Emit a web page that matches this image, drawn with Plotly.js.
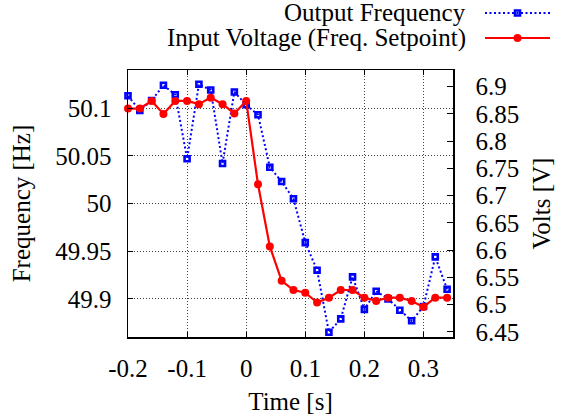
<!DOCTYPE html>
<html>
<head>
<meta charset="utf-8">
<script src="https://cdn.plot.ly/plotly-3.0.1.min.js"></script>
<style>html,body{margin:0;padding:0;background:#fff;}#chart{width:566px;height:419px;}</style>
</head>
<body>
<div id="chart"></div>
<script>
// time samples [s]
var time = [-0.20,-0.18,-0.16,-0.14,-0.12,-0.10,-0.08,-0.06,-0.04,-0.02,
             0.00, 0.02, 0.04, 0.06, 0.08, 0.10, 0.12, 0.14, 0.16, 0.18,
             0.20, 0.22, 0.24, 0.26, 0.28, 0.30, 0.32, 0.34];
// Output frequency [Hz] (left axis)
var outputFrequency = [50.113,50.0975,50.108,50.124,50.114,50.047,50.125,50.119,50.042,50.117,
                       50.1035,50.093,50.038,50.023,50.005,49.959,49.930,49.865,49.879,49.923,
                       49.889,49.908,49.900,49.888,49.877,49.892,49.944,49.910];
// Input voltage (frequency setpoint) [V] (right axis)
var inputVoltage = [6.860,6.860,6.874,6.850,6.874,6.874,6.868,6.880,6.868,6.851,
                    6.874,6.721,6.607,6.544,6.527,6.522,6.504,6.513,6.527,6.527,
                    6.513,6.507,6.513,6.513,6.507,6.496,6.513,6.513];
var xTickVals = [-0.2,-0.1,0,0.1,0.2,0.3];
var xTickText = ['-0.2','-0.1','0','0.1','0.2','0.3'];
var legendLabels = ['Output Frequency','Input Voltage (Freq. Setpoint)'];

var FONT = '"Liberation Serif", "Times New Roman", Tinos, serif';
var BLUE = '#0000ff', RED = '#ff0000';
var W = 566, H = 419;
var L = 128, R = 453, T = 70, B = 337;

var blueLine = {color: BLUE, width: 2, dash: '2px,2.5px'};
var blueMarker = {symbol: 'square-open', size: 5, color: BLUE, line: {color: BLUE, width: 2.6}};
var redLine = {color: RED, width: 2.2};
var redMarker = {symbol: 'circle', size: 8, color: RED};

var traces = [
  {x: time, y: outputFrequency, xaxis: 'x', yaxis: 'y', mode: 'lines+markers',
   line: blueLine, marker: blueMarker, name: legendLabels[0], showlegend: false, cliponaxis: false},
  {x: time, y: inputVoltage, xaxis: 'x', yaxis: 'y2', mode: 'lines+markers',
   line: redLine, marker: redMarker, name: legendLabels[1], showlegend: false, cliponaxis: false},
  // legend samples
  {x: [0, 0.5, 1], y: [13, 13, 13], xaxis: 'x3', yaxis: 'y3', mode: 'lines', line: blueLine,
   showlegend: false, hoverinfo: 'skip', cliponaxis: false},
  {x: [0.5], y: [13], xaxis: 'x3', yaxis: 'y3', mode: 'markers', marker: blueMarker,
   showlegend: false, hoverinfo: 'skip', cliponaxis: false},
  {x: [0, 0.5, 1], y: [38, 38, 38], xaxis: 'x3', yaxis: 'y3', mode: 'lines', line: redLine,
   showlegend: false, hoverinfo: 'skip', cliponaxis: false},
  {x: [0.5], y: [38], xaxis: 'x3', yaxis: 'y3', mode: 'markers', marker: redMarker,
   showlegend: false, hoverinfo: 'skip', cliponaxis: false}
];

var gridDash = '1px,2px';
var tfont = {family: FONT, size: 25, color: '#000'};
var layout = {
  width: W, height: H,
  margin: {l: 0, r: 0, t: 0, b: 0, pad: 0},
  paper_bgcolor: '#fff', plot_bgcolor: 'rgba(0,0,0,0)',
  font: tfont,
  showlegend: false,
  xaxis: {
    domain: [L / W, R / W], range: [-0.2, 0.35], anchor: 'y',
    tickmode: 'array', tickvals: xTickVals, ticktext: xTickText,
    ticks: 'inside', ticklen: 5, tickwidth: 1, tickcolor: '#000',
    showline: true, linecolor: '#000', linewidth: 1.5, mirror: 'ticks',
    showgrid: true, gridcolor: '#444', gridwidth: 1, griddash: gridDash,
    zeroline: false, tickfont: tfont, ticklabelstandoff: 8,
    title: {text: 'Time [s]', font: tfont, standoff: 12},
    automargin: false
  },
  yaxis: {
    domain: [(H - B) / H, (H - T) / H], range: [49.86, 50.14], anchor: 'x',
    dtick: 0.05, tick0: 49.9,
    ticks: 'inside', ticklen: 5, tickwidth: 1, tickcolor: '#000',
    showline: true, linecolor: '#000', linewidth: 1.5, mirror: false,
    showgrid: true, gridcolor: '#444', gridwidth: 1, griddash: gridDash,
    zeroline: false, tickfont: tfont, ticklabelstandoff: 10,
    title: {text: 'Frequency [Hz]', font: tfont, standoff: 17},
    automargin: false
  },
  yaxis2: {
    overlaying: 'y', side: 'right', anchor: 'x',
    range: [6.4408, 6.9307], dtick: 0.05, tick0: 6.45,
    ticks: 'inside', ticklen: 6, tickwidth: 1, tickcolor: '#000',
    showline: true, linecolor: '#000', linewidth: 1.5,
    showgrid: false, zeroline: false, tickfont: tfont, ticklabelstandoff: 16,
    title: {text: 'Volts [V]', font: tfont, standoff: 14},
    automargin: false
  },
  xaxis3: {domain: [485 / W, 550 / W], range: [0, 1], anchor: 'y3', visible: false, fixedrange: true},
  yaxis3: {domain: [(H - 50) / H, 1], range: [50, 0], anchor: 'x3', visible: false, fixedrange: true},
  annotations: [
    {xref: 'paper', yref: 'paper', x: 468 / W, y: 1 - 13 / H, xanchor: 'right', yanchor: 'middle',
     text: legendLabels[0], showarrow: false, font: tfont},
    {xref: 'paper', yref: 'paper', x: 468 / W, y: 1 - 38 / H, xanchor: 'right', yanchor: 'middle',
     text: legendLabels[1], showarrow: false, font: tfont}
  ]
};

Plotly.newPlot('chart', traces, layout, {staticPlot: true, displayModeBar: false});
</script>
</body>
</html>
